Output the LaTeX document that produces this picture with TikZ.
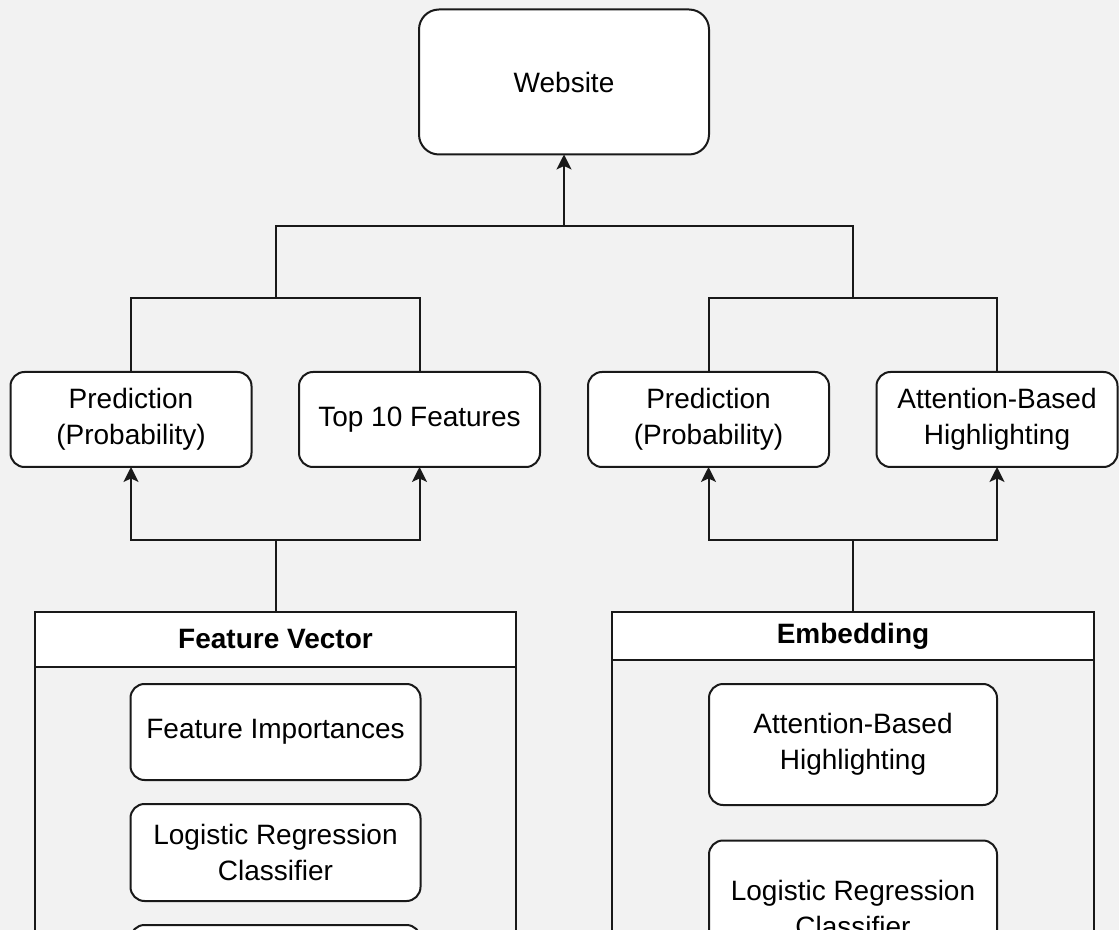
\documentclass[tikz,border=0pt]{standalone}
\usepackage{fontspec}
\setmainfont{Liberation Sans}
\usetikzlibrary{arrows.meta}
\begin{document}
\begin{tikzpicture}[x=0.5pt,y=-0.5pt,
  box/.style={draw=black!90, fill=white, line width=1pt, rounded corners=7pt,
    inner sep=0pt, outer sep=0pt, align=center, font=\fontsize{14}{18}\selectfont},
  head/.style={draw=black!90, fill=white, line width=1pt, inner sep=0pt, outer sep=0pt,
    font=\fontsize{14}{18}\selectfont\bfseries},
  body/.style={draw=black!90, line width=1pt, inner sep=0pt, outer sep=0pt},
  wire/.style={draw=black!90, line width=1pt},
  arr/.style={wire, -{Stealth[length=7.5pt,width=7.5pt,inset=1.8pt]}}
]
\fill[gray!10] (0,0) rectangle (1119,930);
\useasboundingbox (0,0) rectangle (1119,930);
\clip (0,0) rectangle (1119,930);

% top node
\node[box, minimum width=145pt, minimum height=72.5pt, rounded corners=10pt] (web) at (564,82) {Website};

% output row
\node[box, minimum width=120.5pt, minimum height=47.5pt] (p1) at (131,419.5) {Prediction\\(Probability)};
\node[box, minimum width=120.5pt, minimum height=47.5pt] (t10) at (419.5,419.5) {Top 10 Features};
\node[box, minimum width=120.5pt, minimum height=47.5pt] (p2) at (708.5,419.5) {Prediction\\(Probability)};
\node[box, minimum width=120.5pt, minimum height=47.5pt] (ah) at (997,419.5) {Attention-Based\\Highlighting};

% feature vector container
\node[body, minimum width=240.5pt, minimum height=200pt, anchor=north] (fvbody) at (275.5,612) {};
\node[head, minimum width=240.5pt, minimum height=27.5pt, anchor=north] (fv) at (275.5,612) {Feature Vector};
\node[box, minimum width=145pt, minimum height=48pt] (fi) at (275.5,732) {Feature Importances};
\node[box, minimum width=145pt, minimum height=48.5pt] (lr1) at (275.5,852.5) {Logistic Regression\\Classifier};
\node[box, minimum width=145pt, minimum height=48.5pt] (nx1) at (275.5,973.5) {};

% embedding container
\node[body, minimum width=241pt, minimum height=200pt, anchor=north] (embody) at (853,612) {};
\node[head, minimum width=241pt, minimum height=24pt, anchor=north] (em) at (853,612) {Embedding};
\node[box, minimum width=144pt, minimum height=60.5pt] (ah2) at (853,744.5) {Attention-Based\\Highlighting};
\node[box, minimum width=144pt, minimum height=67.5pt, anchor=north] (lr2) at (853,840.5) {Logistic Regression\\Classifier};

% connectors
\coordinate (jfv) at (275.5,540);
\coordinate (jem) at (853,540);
\coordinate (jl) at (275.5,298);
\coordinate (jr) at (853,298);
\coordinate (jt) at (564,226);

\draw[wire] (fv.north) -- (jfv);
\draw[arr] (jfv) -| (p1.south);
\draw[arr] (jfv) -| (t10.south);
\draw[wire] (em.north) -- (jem);
\draw[arr] (jem) -| (p2.south);
\draw[arr] (jem) -| (ah.south);

\draw[wire] (p1.north) |- (jl) -| (t10.north);
\draw[wire] (p2.north) |- (jr) -| (ah.north);
\draw[wire] (jl) |- (jt) -| (jr);
\draw[arr] (jt) -- (web.south);
\end{tikzpicture}
\end{document}
